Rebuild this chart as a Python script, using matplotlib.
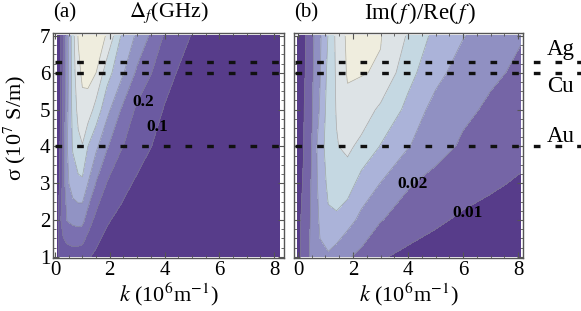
import numpy as np
import matplotlib
matplotlib.use("Agg")
import matplotlib.pyplot as plt

plt.rcParams['font.family'] = ['Liberation Serif', 'DejaVu Serif']
plt.rcParams['mathtext.fontset'] = 'stix'

# conductivity rows (10^7 S/m)
sigma = [1, 2, 3, 4, 5, 6, 7]

# (a) Delta_f in units of 0.1 GHz
k_a = [0.1, 0.2, 0.3, 0.45, 0.65, 0.85, 1.0, 1.2, 1.5, 1.9, 2.4, 3.0, 4.0, 5.0, 6.0, 8.2]
delta_f_tenths = [
    [0.85, 1.2, 1.35, 1.45, 1.5, 1.45, 1.35, 1.1, 0.8, 0.55, 0.38, 0.25, 0.15, 0.1, 0.08, 0.05],
    [0.8, 1.9, 2.6, 3.05, 3.25, 3.35, 3.3, 2.5, 1.7, 1.1, 0.75, 0.5, 0.3, 0.2, 0.15, 0.08],
    [0.7, 1.2, 2.5, 3.8, 4.5, 4.75, 4.8, 4.0, 2.95, 1.95, 1.35, 0.85, 0.45, 0.3, 0.22, 0.1],
    [0.6, 1.1, 2.4, 4.0, 5.1, 5.75, 5.95, 5.0, 4.2, 3.1, 2.1, 1.45, 0.6, 0.45, 0.32, 0.15],
    [0.55, 1.0, 2.3, 3.8, 5.3, 6.3, 6.7, 6.6, 5.6, 4.3, 3.0, 1.8, 0.95, 0.55, 0.4, 0.2],
    [0.5, 0.85, 2.1, 3.6, 5.5, 6.7, 7.2, 7.3, 7.0, 5.4, 4.3, 2.8, 1.3, 0.6, 0.45, 0.25],
    [0.5, 0.8, 2.0, 3.5, 5.6, 7.1, 7.6, 7.8, 7.55, 6.9, 5.0, 3.8, 1.9, 0.95, 0.6, 0.3],
]
levels_a = [-1, 0.1, 0.2, 0.3, 0.4, 0.5, 0.6, 0.7, 2]

# (b) Im(f)/Re(f) in units of 0.01
k_b = [0, 0.1, 0.3, 0.5, 0.8, 1.1, 1.4, 1.8, 2.3, 3.0, 4.0, 5.0, 6.0, 7.0, 8.1]
ratio_hundredths = [
    [0, 1.2, 1.75, 2.2, 2.85, 2.85, 2.55, 2.1, 1.75, 1.1, 0.75, 0.55, 0.4, 0.3, 0.22],
    [0, 1.0, 1.6, 2.15, 3.15, 3.85, 3.8, 3.35, 2.75, 2.05, 1.55, 1.15, 0.85, 0.65, 0.5],
    [0, 0.8, 1.45, 2.1, 3.4, 4.2, 4.6, 4.5, 3.6, 2.98, 2.1, 1.65, 1.4, 1.15, 0.88],
    [0, 0.5, 1.4, 2.0, 3.6, 4.4, 4.95, 5.2, 4.75, 3.95, 3.05, 2.4, 1.85, 1.6, 1.3],
    [0, 0.45, 1.35, 1.9, 3.1, 4.45, 5.05, 5.75, 5.55, 4.8, 3.75, 2.6, 2.2, 1.85, 1.55],
    [0, 0.38, 1.15, 1.8, 2.93, 4.3, 5.12, 6.1, 6.05, 5.91, 4.3, 3.35, 2.475, 2.15, 1.85],
    [0, 0.35, 1.05, 1.7, 2.85, 4.05, 5.25, 6.2, 6.5, 6.05, 4.9, 3.7, 3.05, 2.6, 2.05],
]
levels_b = [-1, 0.01, 0.02, 0.03, 0.04, 0.05, 0.06, 1]

# metals
metals = ["Ag", "Cu", "Au"]
metal_sigma = [6.3, 6.0, 4.0]

colors_a = ['#573c8a', '#6b5aa1', '#7b70b0', '#9193c4', '#abb4d9',
            '#c6d8e2', '#dfe4e6', '#efedde']
colors_b = ['#573c8a', '#7565a6', '#9090c2', '#abb3d9', '#c5d8e2',
            '#dde3e6', '#efedde']

delta_f = np.array(delta_f_tenths) / 10
ratio = np.array(ratio_hundredths) / 100

fig = plt.figure(figsize=(5.81, 3.11), dpi=100)
ax_a = fig.add_axes([53 / 581, 1 - 258 / 311, 231 / 581, 225 / 311])
ax_b = fig.add_axes([294 / 581, 1 - 258 / 311, 229 / 581, 225 / 311])

for ax, k, z, lev, cols in [(ax_a, k_a, delta_f, levels_a, colors_a),
                            (ax_b, k_b, ratio, levels_b, colors_b)]:
    ax.contourf(k, sigma, z, levels=lev, colors=cols)
    ax.contour(k, sigma, z, levels=lev[1:-1], colors='#808080',
               linewidths=0.5, alpha=0.6)
    ax.set_ylim(0.97, 7.08)
    ax.set_xticks([0, 2, 4, 6, 8])
    ax.set_xticks(np.arange(0, 8.3, 0.5), minor=True)
    ax.set_yticks(range(1, 8))
    ax.set_yticks(np.arange(1, 7.1, 0.25), minor=True)
    ax.tick_params(which='both', direction='in', top=True, right=True,
                   color='#555555', labelsize=15, pad=2)
    ax.tick_params(which='major', length=4)
    ax.tick_params(which='minor', length=2)
    for s in ax.spines.values():
        s.set_color('#555555')
        s.set_linewidth(1.0)
    ax.set_xlabel(r'$k$ (10$^6$m$^{-1}$)', fontsize=16, labelpad=1)

ax_a.set_xlim(-0.073, 8.364)
ax_b.set_xlim(-0.145, 8.18)
ax_b.set_yticklabels([])

ax_a.set_ylabel('σ (10$^7$ S/m)', fontsize=16)
ax_a.yaxis.set_label_coords(-0.11, 0.58)

# titles
ax_a.text(0.0, 1.09, '(a)', transform=ax_a.transAxes, fontsize=15,
          ha='left', va='center')
ax_a.text(0.50, 1.09, r'$\Delta_f$(GHz)', transform=ax_a.transAxes,
          fontsize=16, ha='center', va='center')
ax_b.text(0.0, 1.09, '(b)', transform=ax_b.transAxes, fontsize=15,
          ha='left', va='center')
ax_b.text(0.55, 1.09, r'Im($\,f\,$)/Re($\,f\,$)', transform=ax_b.transAxes,
          fontsize=16.5, ha='center', va='center')

# contour labels
lab = dict(fontsize=12.5, fontweight='bold', ha='center', va='center')
ax_a.text(3.21, 5.2, '0.2', **lab)
ax_a.text(3.72, 4.54, '0.1', **lab)
ax_b.text(4.18, 2.98, '0.02', **lab)
ax_b.text(6.18, 2.18, '0.01', **lab)

# metal conductivity lines
for s in metal_sigma:
    la, = ax_a.plot([0.0, 8.3], [s, s], color='#111111', lw=2.4)
    la.set_dashes((2.0, 4.5))
    lb, = ax_b.plot([-0.1, 10.3], [s, s], color='#111111', lw=2.4, clip_on=False)
    lb.set_dashes((2.0, 4.5))

label_y = [6.62, 5.64, 4.26]
for name, y in zip(metals, label_y):
    ax_b.text(9.05, y, name, fontsize=16.5, ha='left', va='center', clip_on=False)

fig.savefig('out.png', dpi=100)
